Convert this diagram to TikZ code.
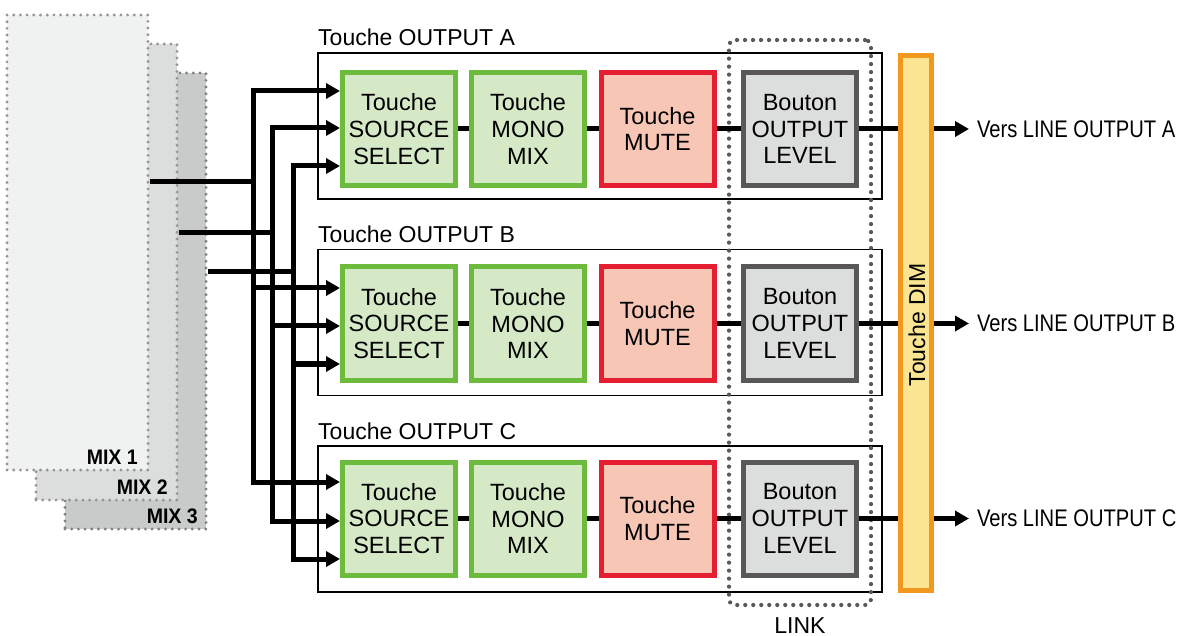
\documentclass[tikz,border=0pt]{standalone}
\usepackage{fontspec}
\setmainfont{Liberation Sans}
\newfontfamily\condfont[FakeStretch=0.84]{Liberation Sans}
\newfontfamily\mixfont[FakeStretch=0.93]{Liberation Sans}
\usetikzlibrary{arrows.meta}
\definecolor{grnB}{RGB}{108,187,60}
\definecolor{grnF}{RGB}{214,233,198}
\definecolor{redB}{RGB}{230,30,50}
\definecolor{redF}{RGB}{247,198,180}
\definecolor{gryB}{RGB}{89,87,87}
\definecolor{gryF}{RGB}{220,221,221}
\definecolor{orgB}{RGB}{243,152,30}
\definecolor{orgF}{RGB}{251,228,146}
\definecolor{mixFa}{RGB}{240,241,241}
\definecolor{mixFb}{RGB}{220,221,221}
\definecolor{mixFc}{RGB}{201,202,202}
\definecolor{mixD}{RGB}{150,150,150}
\definecolor{mixDc}{RGB}{128,128,128}
\definecolor{linkD}{RGB}{89,87,87}
\tikzset{
  blockbase/.style={draw, line width=5pt, minimum width=113pt, minimum height=113pt,
    inner sep=0pt, align=center, font=\fontsize{23.5}{26.7}\selectfont},
  srcbox/.style={blockbase, draw=grnB, fill=grnF},
  mutebox/.style={blockbase, draw=redB, fill=redF},
  lvlbox/.style={blockbase, draw=gryB, fill=gryF},
  outbox/.style={draw=black, line width=1.8pt, minimum width=564pt, minimum height=146pt, inner sep=0pt},
  outlbl/.style={anchor=base west, inner sep=0pt, font=\fontsize{23}{27}\selectfont},
  mixpanel/.style={line width=3.2pt, dash pattern=on 0pt off 6.7pt, line cap=round,
    inner sep=0pt, minimum width=141pt},
  mixlbl/.style={anchor=base east, inner sep=0pt, font=\mixfont\bfseries\fontsize{21}{24}\selectfont},
  dimbox/.style={draw=orgB, fill=orgF, line width=5pt, minimum width=31pt, minimum height=535pt, inner sep=0pt},
  linkbox/.style={draw=linkD, line width=4.2pt, dash pattern=on 0pt off 8pt, line cap=round,
    rounded corners=6pt, minimum width=142pt, minimum height=565pt, inner sep=0pt},
  wire/.style={line width=5pt},
  vers/.style={anchor=west, inner xsep=8pt, inner ysep=0pt, outer sep=0pt,
    font=\condfont\fontsize{24}{28}\selectfont},
  plainlbl/.style={inner sep=0pt, font=\fontsize{23}{27}\selectfont},
  >={Triangle[length=14pt,width=15pt]}
}
\begin{document}
\begin{tikzpicture}[x=1pt,y=-1pt]
\useasboundingbox (0,0) rectangle (1181,636);
% MIX panels
\node[mixpanel, draw=mixDc, fill=mixFc, minimum height=456pt] (m3) at (135.5,301) {};
\node[mixpanel, draw=mixD, fill=mixFb, minimum height=456pt] (m2) at (106.5,272) {};
\node[mixpanel, draw=mixD, fill=mixFa, minimum height=455pt] (m1) at (77.5,242.5) {};
\node[mixlbl] (l1) at (138,464) {MIX 1};
\node[mixlbl] (l2) at (168,494) {MIX 2};
\node[mixlbl] (l3) at (198,523) {MIX 3};
% output boxes
\node[outbox] (boxA) at (600,126) {};
\node[outbox] (boxB) at (600,322.5) {};
\node[outbox] (boxC) at (600,519) {};
\node[outlbl] (tA) at (318,45.5) {Touche OUTPUT A};
\node[outlbl] (tB) at (318,242.5) {Touche OUTPUT B};
\node[outlbl] (tC) at (318,439.5) {Touche OUTPUT C};
% LINK
\node[linkbox] (link) at (800,322.5) {};
\node[plainlbl, anchor=base] (linklbl) at (800,633) {LINK};
% blocks
\foreach \r/\y in {A/129,B/323.5,C/518.5}{
  \node[srcbox] (SS\r) at (399,\y) {Touche\\SOURCE\\SELECT};
  \node[srcbox] (MM\r) at (528,\y) {Touche\\MONO\\MIX};
  \node[mutebox] (MU\r) at (657.5,\y) {Touche\\MUTE};
  \node[lvlbox] (OL\r) at (800,\y) {Bouton\\OUTPUT\\LEVEL};
}
% DIM
\node[dimbox] (dim) at (916,323) {};
\node[rotate=90, inner sep=0pt, font=\fontsize{23}{27}\selectfont] (dimtxt) at (917,325) {Touche DIM};
% chain connectors and outputs
\foreach \r/\t in {A/A,B/B,C/C}{
  \draw[wire] (SS\r) -- (MM\r);
  \draw[wire] (MM\r) -- (MU\r);
  \draw[wire] (MU\r) -- (OL\r);
  \draw[wire] (OL\r.east) -- (OL\r.east -| dim.west);
  \node[vers] (v\r) at (OL\r.east -| 969,0) {Vers LINE OUTPUT \t};
  \draw[wire,->] (OL\r.east -| dim.east) -- (v\r.west);
}
% bus coordinates
\coordinate (b1a) at (253,91);  \coordinate (b1m) at (253,182);
\coordinate (b1b) at (253,288); \coordinate (b1c) at (253,482);
\coordinate (b2a) at (272,128); \coordinate (b2m) at (272,233);
\coordinate (b2b) at (272,326); \coordinate (b2c) at (272,521);
\coordinate (b3a) at (293,166); \coordinate (b3m) at (293,272);
\coordinate (b3b) at (293,364); \coordinate (b3c) at (293,559);
% MIX feeds
\draw[wire] (m1.east |- b1m) -- (b1m);
\draw[wire] (m2.east |- b2m) -- (b2m);
\draw[wire] (m3.east |- b3m) -- (b3m);
% buses
\draw[wire,<->] (SSA.west |- b1a) -- (b1a) -- (b1c) -- (SSC.west |- b1c);
\draw[wire,->] (b1b) -- (SSB.west |- b1b);
\draw[wire,<->] (SSA.west |- b2a) -- (b2a) -- (b2c) -- (SSC.west |- b2c);
\draw[wire,->] (b2b) -- (SSB.west |- b2b);
\draw[wire,<->] (SSA.west |- b3a) -- (b3a) -- (b3c) -- (SSC.west |- b3c);
\draw[wire,->] (b3b) -- (SSB.west |- b3b);
\end{tikzpicture}
\end{document}
